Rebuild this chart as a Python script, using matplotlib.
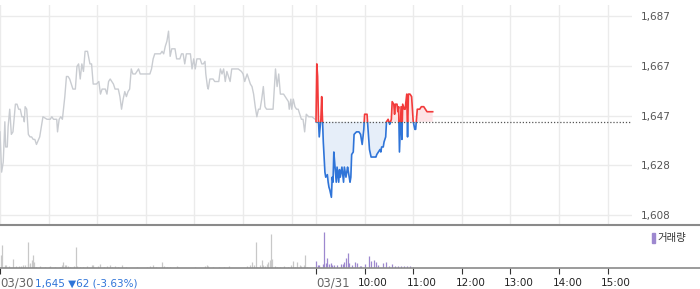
import matplotlib
matplotlib.use('Agg')
import matplotlib.pyplot as plt
import matplotlib.transforms as mtransforms
from matplotlib.patches import Rectangle

plt.rcParams['font.family'] = ['DejaVu Sans', 'Noto Sans CJK KR']

# minutes after 09:00, price (KRW)
prev_min = [0, 2, 4, 6, 7, 9, 10, 12, 14, 16, 19, 21, 23, 25, 27, 29, 30, 31, 33, 35,
            37, 39, 41, 43, 45, 49, 51, 53, 58, 60, 62, 64, 66, 70, 71, 73, 75, 77, 80, 82,
            84, 86, 89, 90, 93, 95, 97, 99, 101, 103, 105, 108, 111, 113, 115, 119, 122, 124, 126, 130,
            132, 134, 136, 138, 140, 142, 146, 148, 150, 152, 154, 156, 158, 160, 162, 164, 167, 169, 171, 173,
            177, 181, 185, 187, 189, 191, 193, 195, 198, 200, 202, 204, 206, 208, 210, 212, 216, 218, 222, 224,
            226, 228, 230, 232, 235, 237, 239, 241, 243, 247, 249, 251, 253, 254, 256, 257, 259, 263, 265, 270,
            272, 274, 276, 278, 280, 282, 284, 286, 290, 294, 298, 300, 302, 305, 307, 309, 311, 313, 315, 317,
            319, 321, 323, 325, 327, 329, 333, 337, 340, 342, 344, 346, 348, 350, 352, 354, 356, 357, 359, 360,
            362, 364, 366, 368, 370, 372, 374, 376, 378, 381, 385, 389]
prev_price = [1641, 1625, 1629, 1645, 1635, 1635, 1643, 1650, 1640, 1641, 1652, 1652, 1650, 1650, 1647, 1647, 1645, 1651, 1650, 1640,
              1639, 1639, 1638, 1638, 1636, 1639, 1643, 1647, 1646, 1646, 1646, 1647, 1646, 1646, 1641, 1646, 1647, 1646, 1655, 1663,
              1663, 1662, 1659, 1658, 1658, 1667, 1668, 1662, 1668, 1665, 1673, 1673, 1668, 1668, 1660, 1660, 1661, 1656, 1658, 1658,
              1656, 1661, 1662, 1661, 1660, 1658, 1658, 1655, 1650, 1654, 1657, 1655, 1657, 1658, 1666, 1664, 1664, 1665, 1666, 1664,
              1664, 1664, 1664, 1666, 1670, 1672, 1672, 1672, 1672, 1673, 1672, 1675, 1677, 1681, 1671, 1674, 1674, 1670, 1670, 1672,
              1672, 1668, 1672, 1672, 1672, 1666, 1670, 1666, 1670, 1670, 1668, 1668, 1669, 1664, 1659, 1658, 1662, 1662, 1661, 1661,
              1666, 1664, 1666, 1661, 1665, 1663, 1661, 1666, 1666, 1666, 1665, 1664, 1661, 1664, 1662, 1660, 1659, 1656, 1651, 1647,
              1650, 1650, 1654, 1659, 1651, 1650, 1650, 1650, 1666, 1659, 1664, 1656, 1656, 1656, 1655, 1654, 1653, 1650, 1654, 1650,
              1654, 1651, 1650, 1650, 1648, 1646, 1646, 1641, 1648, 1647, 1647, 1646]

today_min = [0, 1, 2, 3, 4, 6, 7, 8, 9, 11, 12, 14, 15, 16, 17, 19, 20, 21, 22, 23,
             25, 26, 28, 29, 30, 32, 34, 35, 37, 39, 40, 42, 43, 44, 46, 47, 50, 53, 55, 57,
             59, 60, 63, 64, 66, 68, 73, 74, 75, 77, 79, 80, 81, 83, 84, 86, 87, 89, 90, 91,
             93, 94, 96, 97, 98, 100, 101, 102, 103, 105, 106, 107, 109, 110, 112, 113, 114, 116, 118, 120,
             122, 123, 125, 128, 130, 133, 135, 137, 141, 144]
today_price = [1645, 1668, 1663, 1646, 1639, 1646, 1655, 1646, 1637, 1625, 1623, 1624, 1621, 1619, 1618, 1615, 1623, 1621, 1633, 1629,
               1621, 1627, 1621, 1626, 1623, 1627, 1621, 1627, 1623, 1627, 1625, 1621, 1623, 1632, 1633, 1640, 1641, 1641, 1640, 1636,
               1642, 1648, 1648, 1643, 1634, 1631, 1631, 1631, 1632, 1633, 1634, 1633, 1635, 1635, 1637, 1639, 1645, 1646, 1645, 1644,
               1646, 1653, 1652, 1648, 1652, 1652, 1649, 1651, 1633, 1651, 1638, 1652, 1650, 1650, 1656, 1639, 1656, 1656, 1655, 1645,
               1642, 1642, 1650, 1650, 1651, 1651, 1650, 1649, 1649, 1649]
base_price = 1645

# volume, thousand shares
prev_vol_min = [1, 3, 6, 8, 11, 16, 20, 23, 26, 29, 31, 34, 35, 37, 39, 41, 42, 45, 49, 56,
                60, 62, 68, 74, 76, 78, 80, 82, 84, 86, 91, 94, 95, 99, 103, 107, 113, 115, 121, 123,
                128, 132, 136, 138, 142, 146, 150, 156, 169, 181, 185, 189, 193, 200, 202, 206, 210, 218, 220, 241,
                253, 255, 257, 263, 270, 276, 283, 305, 308, 311, 313, 316, 317, 321, 323, 325, 327, 329, 331, 333,
                335, 336, 340, 342, 346, 350, 356, 359, 362, 364, 366, 370, 372, 375, 377, 379]
prev_vol = [13, 23, 3, 3, 2, 9, 2, 2, 2, 3, 3, 4, 26, 5, 8, 13, 6, 1, 2, 1,
            1, 2, 1, 1, 3, 6, 3, 3, 2, 1, 2, 21, 2, 1, 1, 2, 3, 3, 2, 4,
            1, 2, 3, 1, 2, 1, 3, 1, 1, 1, 2, 3, 1, 6, 2, 1, 1, 2, 1, 1,
            2, 3, 2, 1, 1, 1, 2, 2, 3, 6, 3, 26, 1, 3, 8, 3, 2, 4, 6, 8,
            34, 9, 2, 1, 1, 2, 1, 3, 7, 1, 6, 3, 2, 3, 13, 1]
today_vol_min = [0, 2, 4, 9, 10, 12, 14, 16, 18, 20, 22, 26, 31, 33, 35, 37, 39, 41, 45, 48,
                 51, 54, 56, 61, 66, 68, 72, 74, 77, 83, 86, 90, 94, 98, 101, 105, 109, 112, 116, 120]
today_vol = [7, 3, 3, 4, 36, 5, 10, 4, 5, 3, 3, 3, 4, 4, 6, 10, 15, 5, 3, 6,
             5, 2, 2, 4, 12, 7, 8, 6, 3, 5, 6, 2, 4, 2, 2, 2, 2, 2, 2, 1]

y_ticks = [1608, 1627.75, 1647.5, 1667.25, 1687]
y_labels = ['1,608', '1,628', '1,647', '1,667', '1,687']
x_grid = [0, 60, 120, 180, 240, 300, 360, 390, 450, 510, 570, 630, 690, 750]
x_ticks = [0, 390, 450, 510, 570, 630, 690, 750]
x_labels = ['10:00', '11:00', '12:00', '13:00', '14:00', '15:00']

RED = '#f23b3b'
BLUE = '#2f74d8'
PURPLE = '#9d88cf'

fig = plt.figure(figsize=(7, 2.89), dpi=100)
ax = fig.add_axes([0, 64 / 289, 632 / 700, 220 / 289])
axv = fig.add_axes([0, 21 / 289, 1, 43 / 289])

# price panel
ax.set_xlim(0, 780)
ax.set_ylim(1604.0, 1691.4)
ax.set_xticks(x_grid)
ax.set_yticks(y_ticks)
ax.set_yticklabels(y_labels)
ax.yaxis.tick_right()
ax.tick_params(axis='x', length=0, labelbottom=False)
ax.tick_params(axis='y', length=0, pad=6, labelsize=7.5, labelcolor='#555555')
ax.grid(color='#ebebeb', lw=1)
ax.set_axisbelow(True)
for s in ax.spines.values():
    s.set_visible(False)

ax.plot(prev_min, prev_price, color='#c9ccd1', lw=1.0)

tx = [m + 390 for m in today_min]
tp = today_price
ax.fill_between(tx, tp, base_price, where=[p >= base_price for p in tp],
                interpolate=True, color='#fde4e6', lw=0)
ax.fill_between(tx, tp, base_price, where=[p <= base_price for p in tp],
                interpolate=True, color='#e6eef9', lw=0)

up = Rectangle((380, base_price), 420, 100, transform=ax.transData)
dn = Rectangle((380, base_price - 100), 420, 100, transform=ax.transData)
l1, = ax.plot(tx, tp, color=RED, lw=1.2)
l1.set_clip_path(up)
l2, = ax.plot(tx, tp, color=BLUE, lw=1.2)
l2.set_clip_path(dn)

ax.plot([390, 780], [base_price, base_price], color='#555555', lw=0.9, ls=(0, (1, 1.5)))

# volume panel
axv.set_xlim(0, 864)
axv.set_ylim(0, 43)
axv.vlines(prev_vol_min, 0, prev_vol, color='#c8c8c8', lw=0.9)
axv.vlines([m + 390 for m in today_vol_min], 0, today_vol, color=PURPLE, lw=0.9)
for k in ['left', 'right']:
    axv.spines[k].set_visible(False)
axv.spines['top'].set_color('#8a8a8a')
axv.spines['top'].set_linewidth(1.5)
axv.spines['bottom'].set_color('#8a8a8a')
axv.spines['bottom'].set_linewidth(1.2)
axv.set_yticks([])
axv.set_xticks(x_ticks)
axv.tick_params(axis='x', length=4, color='#333333', labelbottom=False)

tr = mtransforms.blended_transform_factory(axv.transData, fig.transFigure)
trs = mtransforms.offset_copy(tr, fig=fig, x=8.5, y=0, units='dots')
ty = 1 - 283 / 289
fig.text(0, ty, '03/30', fontsize=8.5, color='#666666', ha='left', va='center')
fig.text(35 / 700, ty, '1,645 \u25bc62 (-3.63%)', fontsize=7.5, color='#2f74d8', ha='left', va='center')
fig.text(390, ty, '03/31', transform=tr, fontsize=8.5, color='#666666', ha='left', va='center')
for t, lab in zip(x_ticks[2:], x_labels):
    fig.text(t, ty, lab, transform=trs, fontsize=7.5, color='#222222', ha='center', va='center')

# legend
fig.patches.append(Rectangle((652 / 700, 1 - 243 / 289), 3 / 700, 10 / 289,
                             transform=fig.transFigure, color=PURPLE))
fig.text(657 / 700, 1 - 238.5 / 289, '거래량', fontsize=7.5, color='#333333',
         ha='left', va='center', family=['Noto Sans CJK KR', 'DejaVu Sans'])

fig.savefig('out.png', dpi=100)
